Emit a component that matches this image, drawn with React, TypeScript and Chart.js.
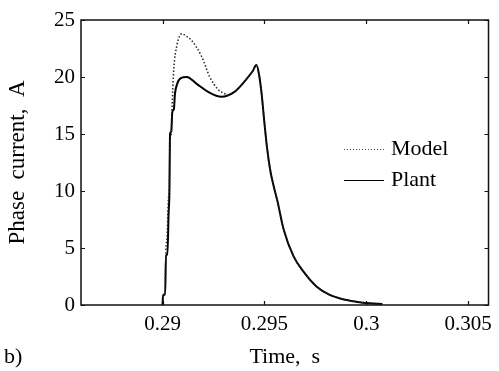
import React, { useEffect, useRef } from "react";
import { Chart, registerables } from "chart.js";

Chart.register(...registerables);

const plantTime = [
  0.29, 0.29003, 0.29013, 0.29017, 0.29024, 0.2903, 0.29034, 0.29037, 0.29043,
  0.29048, 0.29056, 0.29061, 0.29072, 0.2909, 0.29119, 0.29168, 0.29224,
  0.29289, 0.29353, 0.29402, 0.29442, 0.29461, 0.29474, 0.29486, 0.29499,
  0.29513, 0.29529, 0.29546, 0.29563, 0.29595, 0.29644, 0.29692, 0.29757,
  0.29821, 0.29886, 0.2995, 0.30015, 0.30079,
];
const plantCurrent = [
  0, 0.9, 0.9, 4.4, 4.4, 8.0, 10.0, 15.0, 15.2, 16.9, 17.2, 18.5, 19.4, 19.9,
  20.0, 19.4, 18.7, 18.27, 18.7, 19.6, 20.5, 21.05, 20.2, 18.6, 16.2, 13.8,
  11.8, 10.4, 9.2, 6.6, 4.24, 2.92, 1.6, 0.88, 0.5, 0.29, 0.15, 0.09,
];

const modelTime = [
  0.29, 0.29003, 0.29013, 0.29017, 0.29022, 0.29028, 0.29033, 0.29037, 0.29042,
  0.29047, 0.29055, 0.29071, 0.29095, 0.29115, 0.29143, 0.29192, 0.29232,
  0.29273, 0.29308, 0.29321, 0.29353, 0.29402, 0.29442, 0.29461, 0.29474,
  0.29486, 0.29499, 0.29513, 0.29529, 0.29546, 0.29563, 0.29595, 0.29644,
  0.29692, 0.29757, 0.29821, 0.29886, 0.2995, 0.30015, 0.30079,
];
const modelCurrent = [
  0, 0.9, 1.0, 5.0, 5.8, 9.0, 10.5, 14.5, 14.8, 17.4, 20.6, 22.8, 23.8, 23.6,
  23.2, 21.8, 20.0, 18.9, 18.5, 18.4, 18.7, 19.6, 20.5, 21.05, 20.2, 18.6, 16.2,
  13.8, 11.8, 10.4, 9.2, 6.6, 4.24, 2.92, 1.6, 0.88, 0.5, 0.29, 0.15, 0.09,
];

const xTickValues = [0.29, 0.295, 0.3, 0.305];
const xTickLabels = ["0.29", "0.295", "0.3", "0.305"];
const yTickValues = [0, 5, 10, 15, 20, 25];
const yTickLabels = ["0", "5", "10", "15", "20", "25"];
const seriesNames = ["Model", "Plant"];
const xTitle = "Time,  s";
const yTitle = "Phase  current,  A";
const panelLabel = "b)";

const FONT = '"Liberation Serif", "Times New Roman", serif';
const TICK_SIZE = 21;
const TITLE_SIZE = 22;
const YTITLE_SIZE = 23;

const framePlugin = {
  id: "framePlugin",
  afterDraw(chart: any) {
    const { ctx, chartArea: a, scales } = chart;
    const x = scales.x;
    const y = scales.y;
    ctx.save();
    ctx.strokeStyle = "#111";
    ctx.lineWidth = 1.5;
    ctx.strokeRect(a.left, a.top, a.right - a.left, a.bottom - a.top);
    ctx.lineWidth = 1.2;
    const tl = 4;
    ctx.beginPath();
    xTickValues.forEach((v) => {
      const px = Math.round(x.getPixelForValue(v)) + 0.5;
      ctx.moveTo(px, a.bottom);
      ctx.lineTo(px, a.bottom - tl);
      ctx.moveTo(px, a.top);
      ctx.lineTo(px, a.top + tl);
    });
    yTickValues.forEach((v) => {
      const py = Math.round(y.getPixelForValue(v)) + 0.5;
      ctx.moveTo(a.left, py);
      ctx.lineTo(a.left + tl, py);
      ctx.moveTo(a.right, py);
      ctx.lineTo(a.right - tl, py);
    });
    ctx.stroke();

    // legend
    const lx0 = a.left + 263;
    const lx1 = a.left + 303;
    const tx = a.left + 310;
    const ly = [a.top + 129, a.top + 160];
    ctx.font = `${TITLE_SIZE}px ${FONT}`;
    ctx.fillStyle = "#000";
    ctx.textBaseline = "middle";
    ctx.textAlign = "left";
    ctx.strokeStyle = "#444";
    ctx.lineWidth = 1.2;
    ctx.setLineDash([1, 2]);
    ctx.beginPath();
    ctx.moveTo(lx0, ly[0] + 0.5);
    ctx.lineTo(lx1, ly[0] + 0.5);
    ctx.stroke();
    ctx.setLineDash([]);
    ctx.strokeStyle = "#000";
    ctx.lineWidth = 1.2;
    ctx.beginPath();
    ctx.moveTo(lx0, ly[1] + 0.5);
    ctx.lineTo(lx1, ly[1] + 0.5);
    ctx.stroke();
    ctx.fillText(seriesNames[0], tx, ly[0]);
    ctx.fillText(seriesNames[1], tx, ly[1]);

    // panel label
    ctx.fillText(panelLabel, 4, chart.height - 14);
    ctx.restore();
  },
};

export default function App() {
  const ref = useRef<HTMLCanvasElement | null>(null);

  useEffect(() => {
    document.body.style.margin = "0";
    const canvas = ref.current;
    if (!canvas) return;
    const tickFont = { family: FONT, size: TICK_SIZE };
    const chart = new Chart(canvas, {
      type: "line",
      data: {
        datasets: [
          {
            label: seriesNames[0],
            data: modelTime.map((t, i) => ({ x: t, y: modelCurrent[i] })),
            borderColor: "#222",
            borderWidth: 1.5,
            borderDash: [1.5, 2],
            pointRadius: 0,
            cubicInterpolationMode: "monotone",
            fill: false,
          },
          {
            label: seriesNames[1],
            data: plantTime.map((t, i) => ({ x: t, y: plantCurrent[i] })),
            borderColor: "#000",
            borderWidth: 2,
            pointRadius: 0,
            cubicInterpolationMode: "monotone",
            fill: false,
          },
        ],
      },
      options: {
        animation: false,
        responsive: false,
        devicePixelRatio: 1,
        layout: { padding: { top: 20, right: 5, left: 0, bottom: 0 } },
        plugins: {
          legend: { display: false },
          tooltip: { enabled: false },
        },
        scales: {
          x: {
            type: "linear",
            min: 0.286,
            max: 0.306,
            afterBuildTicks: (s: any) => {
              s.ticks = xTickValues.map((v) => ({ value: v }));
            },
            afterFit: (s: any) => {
              s.height = 66;
            },
            ticks: {
              autoSkip: false,
              maxRotation: 0,
              padding: 7,
              color: "#000",
              font: tickFont,
              callback: (v: any) => {
                const i = xTickValues.findIndex((t) => Math.abs(t - v) < 1e-9);
                return i >= 0 ? xTickLabels[i] : "";
              },
            },
            grid: { display: false, drawTicks: false },
            border: { display: false },
            title: {
              display: true,
              text: xTitle,
              color: "#000",
              font: { family: FONT, size: TITLE_SIZE },
              padding: { top: 0, bottom: 1 },
            },
          },
          y: {
            type: "linear",
            min: 0,
            max: 25,
            afterBuildTicks: (s: any) => {
              s.ticks = yTickValues.map((v) => ({ value: v }));
            },
            afterFit: (s: any) => {
              s.width = 81;
            },
            ticks: {
              padding: 6,
              color: "#000",
              font: tickFont,
              callback: (v: any) => {
                const i = yTickValues.indexOf(v);
                return i >= 0 ? yTickLabels[i] : "";
              },
            },
            grid: { display: false, drawTicks: false },
            border: { display: false },
            title: {
              display: true,
              text: yTitle,
              color: "#000",
              font: { family: FONT, size: YTITLE_SIZE },
              padding: { top: 4, bottom: 0 },
            },
          },
        },
      },
      plugins: [framePlugin],
    });
    return () => chart.destroy();
  }, []);

  return (
    <div style={{ position: "absolute", left: 0, top: 0, width: 499, height: 371, background: "#fff" }}>
      <canvas ref={ref} width={499} height={371} />
    </div>
  );
}
